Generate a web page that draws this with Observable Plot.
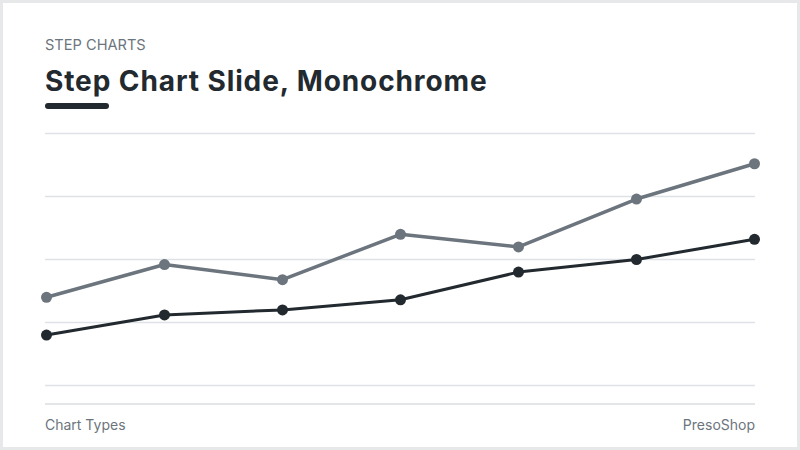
<!DOCTYPE html>
<html>
<head>
<meta charset="utf-8">
<script src="https://cdn.jsdelivr.net/npm/d3@7"></script>
<script src="https://cdn.jsdelivr.net/npm/@observablehq/plot@0.6"></script>
<style>
  html, body { margin: 0; padding: 0; background: #ffffff; }
  #frame {
    position: relative; width: 800px; height: 450px; box-sizing: border-box;
    box-shadow: inset 0 0 0 3px #e6e8ea; overflow: hidden;
    font-family: Inter, "Noto Sans", sans-serif;
  }
  .t { position: absolute; line-height: 1; white-space: nowrap; margin: 0; }
  #kicker { left: 45px; top: 38px; font-size: 14.6px; color: #6c757d; font-weight: 400; letter-spacing: 0px; }
  #title { left: 45px; top: 67px; font-size: 28px; color: #22292f; font-weight: 700; letter-spacing: 0.9px; }
  #bar { position: absolute; left: 45px; top: 103px; width: 64px; height: 6px; border-radius: 3px; background: #22292f; }
  #chart { position: absolute; left: 0; top: 113px; }
  #sep { position: absolute; left: 45px; top: 403px; width: 710px; height: 0; border-top: 2px solid #e3e6e9; }
  #foot-l { left: 45px; top: 418px; font-size: 14px; color: #6c757d; }
  #foot-r { right: 45px; top: 418px; font-size: 14px; color: #6c757d; }
</style>
</head>
<body>
<div id="frame">
  <div class="t" id="kicker">STEP CHARTS</div>
  <h1 class="t" id="title">Step Chart Slide, Monochrome</h1>
  <div id="bar"></div>
  <div id="chart"></div>
  <div id="sep"></div>
  <div class="t" id="foot-l">Chart Types</div>
  <div class="t" id="foot-r">PresoShop</div>
</div>
<script>
// Data
const periods = ["1", "2", "3", "4", "5", "6", "7"];
const seriesLight = [35, 48, 42, 60, 55, 74, 88];
const seriesDark = [20, 28, 30, 34, 45, 50, 58];
const yTicks = [0, 25, 50, 75, 100];

const rows = [
  ...periods.map((p, i) => ({period: p, value: seriesLight[i], series: "Light"})),
  ...periods.map((p, i) => ({period: p, value: seriesDark[i], series: "Dark"}))
];

const chart = Plot.plot({
  width: 800,
  height: 300,
  marginTop: 20,
  marginBottom: 28,
  marginLeft: 45,
  marginRight: 45,
  style: {background: "transparent", overflow: "visible"},
  x: {type: "point", domain: periods, padding: 0, axis: null},
  y: {domain: [0, 100], axis: null},
  marks: [
    Plot.ruleY(yTicks, {stroke: "#dee2e6", strokeWidth: 1.5}),
    Plot.line(rows.filter(d => d.series === "Light"), {x: "period", y: "value", stroke: "#6c757d", strokeWidth: 3.5}),
    Plot.dot(rows.filter(d => d.series === "Light"), {x: "period", y: "value", fill: "#6c757d", r: 5.5}),
    Plot.line(rows.filter(d => d.series === "Dark"), {x: "period", y: "value", stroke: "#22292f", strokeWidth: 3}),
    Plot.dot(rows.filter(d => d.series === "Dark"), {x: "period", y: "value", fill: "#22292f", r: 5.5})
  ]
});
document.getElementById("chart").appendChild(chart);
</script>
</body>
</html>
